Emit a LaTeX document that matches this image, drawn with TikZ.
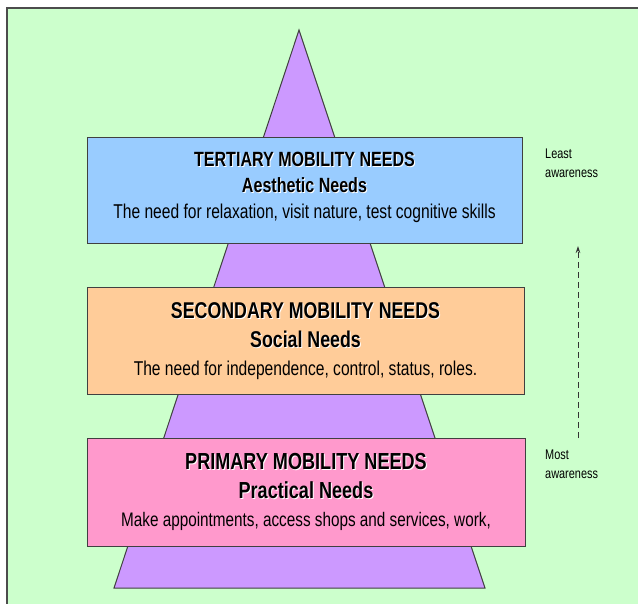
\documentclass[tikz,border=0pt]{standalone}
\usepackage{fontspec}
\setmainfont{Liberation Sans}[FakeStretch=0.78]
\usetikzlibrary{arrows.meta}
\definecolor{bggreen}{HTML}{CCFFCC}
\definecolor{pyramid}{HTML}{CC99FF}
\definecolor{tertblue}{HTML}{99CCFF}
\definecolor{secorange}{HTML}{FFCC99}
\definecolor{primpink}{HTML}{FF99CC}
% bold heading with a light drop shadow, size in pt as first argument
\newcommand{\needhead}[2]{{\fontsize{#1}{#1}\selectfont\makebox[0pt][l]{\hspace{1pt}\raisebox{-1pt}{\textcolor{white}{\textbf{#2}}}}\textbf{#2}}}
\begin{document}
\begin{tikzpicture}[x=1pt,y=-1pt,
    needbox/.style={draw=black!75, line width=1pt, align=center, inner sep=0pt,
      font=\fontsize{20}{28.5}\selectfont},
    needtext/.style={align=center, inner sep=0pt, font=\fontsize{20}{26}\selectfont},
    sidelabel/.style={anchor=north west, align=left, inner sep=0pt,
      font=\fontsize{14}{19.5}\selectfont}]
  \useasboundingbox (0,0) rectangle (638,604);
  \fill[bggreen] (7,8) rectangle (638,604);
  \draw[black!70, line width=1.5pt] (7,604) -- (7,8) -- (638,8);

  \coordinate (apex) at (299,30);
  \coordinate (baseR) at (485,588);
  \coordinate (baseL) at (114,588);
  \filldraw[fill=pyramid, draw=black!75, line width=1pt] (apex) -- (baseR) -- (baseL) -- cycle;

  \node[needbox, fill=tertblue, minimum width=435pt, minimum height=106pt] (tertiary) at (304.5,191) {};
  \node[needtext, yshift=4pt] (tertiarytext) at (tertiary.center)
    {\needhead{20.6}{TERTIARY MOBILITY NEEDS}\\\needhead{20.6}{Aesthetic Needs}\\The need for relaxation, visit nature, test cognitive skills};
  \node[needbox, fill=secorange, minimum width=437pt, minimum height=107pt] (secondary) at (305.5,341.5)
    {\needhead{22.8}{SECONDARY MOBILITY NEEDS}\\\needhead{22.8}{Social Needs}\\The need for independence, control, status, roles.};
  \node[needbox, fill=primpink, minimum width=438pt, minimum height=108pt] (primary) at (306,492)
    {\needhead{23.2}{PRIMARY MOBILITY NEEDS}\\\needhead{23.2}{Practical Needs}\\{\fontsize{19.6}{19.6}\selectfont Make appointments, access shops and services, work,}};

  \node[sidelabel] (least) at (545,148.5) {Least\\awareness};
  \node[sidelabel] (most) at (545,449.5) {Most\\awareness};

  \coordinate (arrowbottom) at (578,438);
  \coordinate (arrowtop) at (578,246);
  \draw[-{Stealth[length=7pt,width=4.5pt]}, black!80, line width=0.8pt, dash pattern=on 6pt off 4pt] (arrowbottom) -- (arrowtop);
\end{tikzpicture}
\end{document}
